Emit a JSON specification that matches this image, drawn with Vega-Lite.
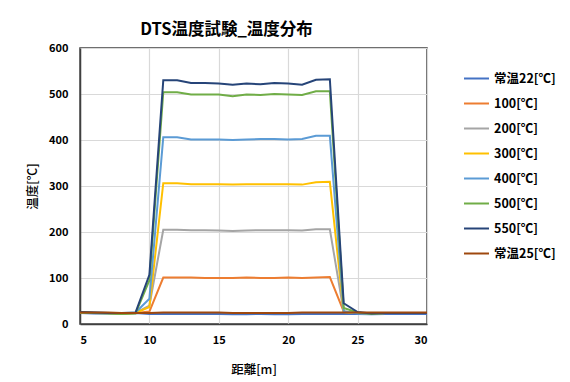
{
  "$schema": "https://vega.github.io/schema/vega-lite/v6.json",
  "width": 347,
  "height": 276,
  "autosize": {"type": "none"},
  "padding": {"left": 80, "top": 48, "right": 143, "bottom": 58},
  "background": "white",
  "config": {
    "font": "Noto Sans CJK JP",
    "view": {"stroke": "#404040", "strokeWidth": 1.5}
  },
  "title": {
    "text": "DTS温度試験_温度分布",
    "fontSize": 16.5,
    "fontWeight": "bold",
    "color": "#000000",
    "anchor": "middle",
    "dx": -27,
    "offset": 4,
    "font": "Noto Sans CJK JP"
  },
  "datasets": {
    "d": [
      {"x":5,"s":"常温22[℃]","v":24},{"x":6,"s":"常温22[℃]","v":23},{"x":7,"s":"常温22[℃]","v":23},{"x":8,"s":"常温22[℃]","v":23},{"x":9,"s":"常温22[℃]","v":24},{"x":10,"s":"常温22[℃]","v":22},{"x":11,"s":"常温22[℃]","v":22},{"x":12,"s":"常温22[℃]","v":22},{"x":13,"s":"常温22[℃]","v":22},{"x":14,"s":"常温22[℃]","v":22},{"x":15,"s":"常温22[℃]","v":22},{"x":16,"s":"常温22[℃]","v":21},{"x":17,"s":"常温22[℃]","v":21},{"x":18,"s":"常温22[℃]","v":22},{"x":19,"s":"常温22[℃]","v":21},{"x":20,"s":"常温22[℃]","v":21},{"x":21,"s":"常温22[℃]","v":22},{"x":22,"s":"常温22[℃]","v":22},{"x":23,"s":"常温22[℃]","v":22},{"x":24,"s":"常温22[℃]","v":22},{"x":25,"s":"常温22[℃]","v":22},{"x":26,"s":"常温22[℃]","v":21},{"x":27,"s":"常温22[℃]","v":22},{"x":28,"s":"常温22[℃]","v":22},{"x":29,"s":"常温22[℃]","v":22},{"x":30,"s":"常温22[℃]","v":22},
      {"x":5,"s":"100[℃]","v":25},{"x":6,"s":"100[℃]","v":24},{"x":7,"s":"100[℃]","v":24},{"x":8,"s":"100[℃]","v":23},{"x":9,"s":"100[℃]","v":24},{"x":10,"s":"100[℃]","v":27},{"x":11,"s":"100[℃]","v":101},{"x":12,"s":"100[℃]","v":101},{"x":13,"s":"100[℃]","v":101},{"x":14,"s":"100[℃]","v":100},{"x":15,"s":"100[℃]","v":100},{"x":16,"s":"100[℃]","v":100},{"x":17,"s":"100[℃]","v":101},{"x":18,"s":"100[℃]","v":100},{"x":19,"s":"100[℃]","v":100},{"x":20,"s":"100[℃]","v":101},{"x":21,"s":"100[℃]","v":100},{"x":22,"s":"100[℃]","v":101},{"x":23,"s":"100[℃]","v":102},{"x":24,"s":"100[℃]","v":27},{"x":25,"s":"100[℃]","v":24},{"x":26,"s":"100[℃]","v":23},{"x":27,"s":"100[℃]","v":24},{"x":28,"s":"100[℃]","v":24},{"x":29,"s":"100[℃]","v":24},{"x":30,"s":"100[℃]","v":24},
      {"x":5,"s":"200[℃]","v":25},{"x":6,"s":"200[℃]","v":24},{"x":7,"s":"200[℃]","v":24},{"x":8,"s":"200[℃]","v":23},{"x":9,"s":"200[℃]","v":24},{"x":10,"s":"200[℃]","v":40},{"x":11,"s":"200[℃]","v":205},{"x":12,"s":"200[℃]","v":205},{"x":13,"s":"200[℃]","v":204},{"x":14,"s":"200[℃]","v":204},{"x":15,"s":"200[℃]","v":203},{"x":16,"s":"200[℃]","v":202},{"x":17,"s":"200[℃]","v":203},{"x":18,"s":"200[℃]","v":204},{"x":19,"s":"200[℃]","v":204},{"x":20,"s":"200[℃]","v":204},{"x":21,"s":"200[℃]","v":203},{"x":22,"s":"200[℃]","v":206},{"x":23,"s":"200[℃]","v":206},{"x":24,"s":"200[℃]","v":26},{"x":25,"s":"200[℃]","v":24},{"x":26,"s":"200[℃]","v":23},{"x":27,"s":"200[℃]","v":24},{"x":28,"s":"200[℃]","v":24},{"x":29,"s":"200[℃]","v":24},{"x":30,"s":"200[℃]","v":24},
      {"x":5,"s":"300[℃]","v":25},{"x":6,"s":"300[℃]","v":24},{"x":7,"s":"300[℃]","v":24},{"x":8,"s":"300[℃]","v":23},{"x":9,"s":"300[℃]","v":24},{"x":10,"s":"300[℃]","v":37},{"x":11,"s":"300[℃]","v":306},{"x":12,"s":"300[℃]","v":306},{"x":13,"s":"300[℃]","v":304},{"x":14,"s":"300[℃]","v":304},{"x":15,"s":"300[℃]","v":304},{"x":16,"s":"300[℃]","v":303},{"x":17,"s":"300[℃]","v":304},{"x":18,"s":"300[℃]","v":304},{"x":19,"s":"300[℃]","v":304},{"x":20,"s":"300[℃]","v":304},{"x":21,"s":"300[℃]","v":303},{"x":22,"s":"300[℃]","v":308},{"x":23,"s":"300[℃]","v":309},{"x":24,"s":"300[℃]","v":26},{"x":25,"s":"300[℃]","v":24},{"x":26,"s":"300[℃]","v":23},{"x":27,"s":"300[℃]","v":24},{"x":28,"s":"300[℃]","v":24},{"x":29,"s":"300[℃]","v":24},{"x":30,"s":"300[℃]","v":24},
      {"x":5,"s":"400[℃]","v":26},{"x":6,"s":"400[℃]","v":25},{"x":7,"s":"400[℃]","v":24},{"x":8,"s":"400[℃]","v":23},{"x":9,"s":"400[℃]","v":25},{"x":10,"s":"400[℃]","v":55},{"x":11,"s":"400[℃]","v":406},{"x":12,"s":"400[℃]","v":406},{"x":13,"s":"400[℃]","v":401},{"x":14,"s":"400[℃]","v":401},{"x":15,"s":"400[℃]","v":401},{"x":16,"s":"400[℃]","v":400},{"x":17,"s":"400[℃]","v":401},{"x":18,"s":"400[℃]","v":402},{"x":19,"s":"400[℃]","v":402},{"x":20,"s":"400[℃]","v":401},{"x":21,"s":"400[℃]","v":402},{"x":22,"s":"400[℃]","v":409},{"x":23,"s":"400[℃]","v":409},{"x":24,"s":"400[℃]","v":28},{"x":25,"s":"400[℃]","v":23},{"x":26,"s":"400[℃]","v":22},{"x":27,"s":"400[℃]","v":24},{"x":28,"s":"400[℃]","v":24},{"x":29,"s":"400[℃]","v":24},{"x":30,"s":"400[℃]","v":24},
      {"x":5,"s":"500[℃]","v":25},{"x":6,"s":"500[℃]","v":24},{"x":7,"s":"500[℃]","v":23},{"x":8,"s":"500[℃]","v":22},{"x":9,"s":"500[℃]","v":23},{"x":10,"s":"500[℃]","v":95},{"x":11,"s":"500[℃]","v":504},{"x":12,"s":"500[℃]","v":504},{"x":13,"s":"500[℃]","v":499},{"x":14,"s":"500[℃]","v":499},{"x":15,"s":"500[℃]","v":499},{"x":16,"s":"500[℃]","v":495},{"x":17,"s":"500[℃]","v":499},{"x":18,"s":"500[℃]","v":498},{"x":19,"s":"500[℃]","v":500},{"x":20,"s":"500[℃]","v":499},{"x":21,"s":"500[℃]","v":498},{"x":22,"s":"500[℃]","v":506},{"x":23,"s":"500[℃]","v":506},{"x":24,"s":"500[℃]","v":35},{"x":25,"s":"500[℃]","v":25},{"x":26,"s":"500[℃]","v":22},{"x":27,"s":"500[℃]","v":24},{"x":28,"s":"500[℃]","v":24},{"x":29,"s":"500[℃]","v":24},{"x":30,"s":"500[℃]","v":24},
      {"x":5,"s":"550[℃]","v":26},{"x":6,"s":"550[℃]","v":25},{"x":7,"s":"550[℃]","v":24},{"x":8,"s":"550[℃]","v":24},{"x":9,"s":"550[℃]","v":25},{"x":10,"s":"550[℃]","v":107},{"x":11,"s":"550[℃]","v":530},{"x":12,"s":"550[℃]","v":530},{"x":13,"s":"550[℃]","v":524},{"x":14,"s":"550[℃]","v":524},{"x":15,"s":"550[℃]","v":523},{"x":16,"s":"550[℃]","v":520},{"x":17,"s":"550[℃]","v":523},{"x":18,"s":"550[℃]","v":521},{"x":19,"s":"550[℃]","v":524},{"x":20,"s":"550[℃]","v":523},{"x":21,"s":"550[℃]","v":520},{"x":22,"s":"550[℃]","v":531},{"x":23,"s":"550[℃]","v":532},{"x":24,"s":"550[℃]","v":45},{"x":25,"s":"550[℃]","v":26},{"x":26,"s":"550[℃]","v":23},{"x":27,"s":"550[℃]","v":24},{"x":28,"s":"550[℃]","v":24},{"x":29,"s":"550[℃]","v":24},{"x":30,"s":"550[℃]","v":24},
      {"x":5,"s":"常温25[℃]","v":25},{"x":6,"s":"常温25[℃]","v":25},{"x":7,"s":"常温25[℃]","v":25},{"x":8,"s":"常温25[℃]","v":24},{"x":9,"s":"常温25[℃]","v":24},{"x":10,"s":"常温25[℃]","v":24},{"x":11,"s":"常温25[℃]","v":25},{"x":12,"s":"常温25[℃]","v":25},{"x":13,"s":"常温25[℃]","v":25},{"x":14,"s":"常温25[℃]","v":25},{"x":15,"s":"常温25[℃]","v":25},{"x":16,"s":"常温25[℃]","v":24},{"x":17,"s":"常温25[℃]","v":24},{"x":18,"s":"常温25[℃]","v":24},{"x":19,"s":"常温25[℃]","v":24},{"x":20,"s":"常温25[℃]","v":24},{"x":21,"s":"常温25[℃]","v":25},{"x":22,"s":"常温25[℃]","v":25},{"x":23,"s":"常温25[℃]","v":25},{"x":24,"s":"常温25[℃]","v":25},{"x":25,"s":"常温25[℃]","v":25},{"x":26,"s":"常温25[℃]","v":25},{"x":27,"s":"常温25[℃]","v":25},{"x":28,"s":"常温25[℃]","v":25},{"x":29,"s":"常温25[℃]","v":25},{"x":30,"s":"常温25[℃]","v":25}
    ]
  },
  "data": {"name": "d"},
  "mark": {"type": "line", "strokeWidth": 2, "clip": true},
  "encoding": {
    "x": {
      "field": "x", "type": "quantitative",
      "scale": {"domain": [5, 30], "nice": false, "zero": false},
      "axis": {
        "title": "距離[m]", "values": [5, 10, 15, 20, 25, 30],
        "grid": true, "gridColor": "#d9d9d9", "gridWidth": 1.2,
        "domainColor": "#404040", "domainWidth": 1.5,
        "ticks": false, "labelPadding": 10,
        "labelFontSize": 11, "labelFontWeight": "bold", "labelColor": "#000000",
        "titleFontSize": 12.5, "titleFontWeight": 500, "titleColor": "#000000", "titlePadding": 18
      }
    },
    "y": {
      "field": "v", "type": "quantitative",
      "scale": {"domain": [0, 600], "nice": false},
      "axis": {
        "title": "温度[℃]", "values": [0, 100, 200, 300, 400, 500, 600],
        "grid": true, "gridColor": "#d9d9d9", "gridWidth": 1.2,
        "domainColor": "#404040", "domainWidth": 1.5,
        "ticks": false, "labelPadding": 12,
        "labelFontSize": 11, "labelFontWeight": "bold", "labelColor": "#000000",
        "titleFontSize": 12.5, "titleFontWeight": 500, "titleColor": "#000000", "titlePadding": 9
      }
    },
    "color": {
      "field": "s", "type": "nominal",
      "scale": {
        "domain": ["常温22[℃]", "100[℃]", "200[℃]", "300[℃]", "400[℃]", "500[℃]", "550[℃]", "常温25[℃]"],
        "range": ["#4472C4", "#ED7D31", "#A5A5A5", "#FFC000", "#5B9BD5", "#70AD47", "#264478", "#9E480E"]
      },
      "legend": {
        "title": null, "orient": "none", "legendX": 383, "legendY": 17,
        "symbolType": "stroke", "symbolSize": 625, "symbolStrokeWidth": 2,
        "labelFontSize": 12.5, "labelFontWeight": "bold", "labelColor": "#000000",
        "labelOffset": 4, "rowPadding": 5
      }
    }
  }
}
